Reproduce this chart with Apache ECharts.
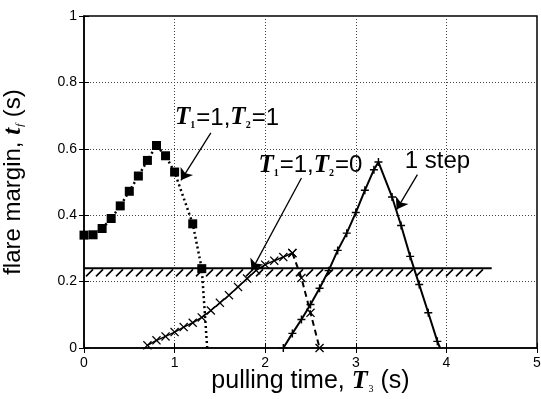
<!DOCTYPE html>
<html><head><meta charset="utf-8">
<script src="https://cdn.jsdelivr.net/npm/echarts@6/dist/echarts.min.js"></script>
<style>html,body{margin:0;padding:0;background:#fff}#c{width:541px;height:399px}</style>
</head><body><div id="c"></div>
<script>
// ---- data ----
const xTicks = [0, 1, 2, 3, 4, 5];
const yTicks = [0, 0.2, 0.4, 0.6, 0.8, 1];

// T1=1, T2=1 (dotted, filled squares)
const aX = [0, 0.1, 0.2, 0.3, 0.4, 0.5, 0.6, 0.7, 0.8, 0.9, 1.0, 1.2, 1.3, 1.36];
const aY = [0.34, 0.341, 0.36, 0.39, 0.428, 0.472, 0.518, 0.565, 0.61, 0.579, 0.53, 0.374, 0.239, 0];

// T1=1, T2=0 (solid part, crosses)
const bX = [0.7, 0.8, 0.9, 1.0, 1.1, 1.2, 1.3, 1.4, 1.5, 1.6, 1.7, 1.8, 1.9, 2.0, 2.1, 2.2, 2.3];
const bY = [0.008, 0.023, 0.035, 0.048, 0.063, 0.076, 0.092, 0.113, 0.136, 0.159, 0.184, 0.209, 0.234, 0.251, 0.263, 0.274, 0.286];
// T1=1, T2=0 (dashed part)
const b2X = [2.3, 2.4, 2.5, 2.6];
const b2Y = [0.286, 0.211, 0.106, 0];

// 1 step (solid, plus markers)
const cX = [2.2, 2.3, 2.4, 2.5, 2.6, 2.7, 2.8, 2.9, 3.0, 3.1, 3.2, 3.25, 3.4, 3.5, 3.6, 3.7, 3.8, 3.9, 3.93];
const cY = [0, 0.044, 0.086, 0.131, 0.18, 0.233, 0.294, 0.346, 0.408, 0.475, 0.537, 0.56, 0.455, 0.369, 0.276, 0.191, 0.106, 0.02, 0];

// threshold line (hatched)
const threshold = 0.24;
const thrStart = 0;
const thrEnd = 4.5;

// ---- chart ----
const serif = '"Liberation Serif", "DejaVu Serif", serif';
const sans = '"Liberation Sans", Arial, sans-serif';
const zip = (xs, ys) => xs.map((x, i) => [x, ys[i]]);
const withLastNoSymbol = arr => arr.map((p, i) => i === arr.length - 1 ? { value: p, symbol: 'none' } : p);
const crossSym = 'path://M-5,-4L-4,-5L0,-1L4,-5L5,-4L1,0L5,4L4,5L0,1L-4,5L-5,4L-1,0Z';
const plusSym = 'path://M-0.9,-5H0.9V-0.9H5V0.9H0.9V5H-0.9V0.9H-5V-0.9H-0.9Z';

const richLabel = {
  T: { fontFamily: serif, fontWeight: 'bold', fontStyle: 'italic', fontSize: 25, color: '#000' },
  s: { fontFamily: serif, fontWeight: 'bold', fontSize: 10, color: '#000', verticalAlign: 'bottom', padding: [10, 1, 0, 0] },
  n: { fontFamily: sans, fontSize: 24, color: '#000' }
};

const chart = echarts.init(document.getElementById('c'));
const gridLine = { show: true, lineStyle: { color: '#444', width: 1, type: [1, 2] } };
const tickIn = { show: true, inside: true, length: 5, lineStyle: { color: '#000', width: 1 } };

chart.setOption({
  animation: false,
  backgroundColor: '#fff',
  grid: { left: 84, right: 4, top: 16, bottom: 51, show: true, borderColor: '#000', borderWidth: 1.5, containLabel: false, outerBoundsMode: 'none' },
  xAxis: [
    {
      type: 'value', min: xTicks[0], max: xTicks[xTicks.length - 1], interval: 1, position: 'bottom',
      axisLine: { show: true, lineStyle: { color: '#000', width: 1.5 } },
      axisTick: tickIn, splitLine: gridLine,
      axisLabel: { color: '#000', fontFamily: sans, fontSize: 14, margin: 8 },
      name: '{n|pulling time, }{T|T}{s|3}{n| (s)}', nameLocation: 'middle', nameGap: 20, nameMoveOverlap: false,
      nameTextStyle: { rich: {
        n: { fontFamily: sans, fontSize: 25, color: '#000' },
        T: { fontFamily: serif, fontWeight: 'bold', fontStyle: 'italic', fontSize: 26, color: '#000' },
        s: { fontFamily: serif, fontSize: 10, color: '#000', verticalAlign: 'bottom', padding: [10, 0, 0, 1] }
      } }
    },
    {
      type: 'value', min: xTicks[0], max: xTicks[xTicks.length - 1], interval: 1, position: 'top',
      axisLine: { show: false }, axisTick: tickIn, axisLabel: { show: false }, splitLine: { show: false }
    }
  ],
  yAxis: [
    {
      type: 'value', min: yTicks[0], max: yTicks[yTicks.length - 1], interval: 0.2, position: 'left',
      axisLine: { show: true, lineStyle: { color: '#000', width: 1.5 } },
      axisTick: tickIn, splitLine: gridLine,
      axisLabel: { color: '#000', fontFamily: sans, fontSize: 14, margin: 7 },
      name: '{n|flare margin, }{t|t}{s|f}{n| (s)}', nameLocation: 'middle', nameGap: 58, nameRotate: 90, nameMoveOverlap: false,
      nameTextStyle: { rich: {
        n: { fontFamily: sans, fontSize: 24, color: '#000' },
        t: { fontFamily: serif, fontWeight: 'bold', fontStyle: 'italic', fontSize: 25, color: '#000' },
        s: { fontFamily: serif, fontStyle: 'italic', fontSize: 11, color: '#000', verticalAlign: 'bottom', padding: [10, 0, 0, 1] }
      } }
    },
    {
      type: 'value', min: yTicks[0], max: yTicks[yTicks.length - 1], interval: 0.2, position: 'right',
      axisLine: { show: false }, axisTick: tickIn, axisLabel: { show: false }, splitLine: { show: false }
    }
  ],
  series: [
    {
      type: 'custom', coordinateSystem: 'cartesian2d', silent: true, z: 3,
      data: [[thrStart, thrEnd, threshold]], encode: { x: [0, 1], y: 2 },
      renderItem: (params, api) => {
        const p0 = api.coord([api.value(0), api.value(2)]);
        const p1 = api.coord([api.value(1), api.value(2)]);
        const children = [{ type: 'line', shape: { x1: p0[0], y1: p0[1], x2: p1[0], y2: p1[1] }, style: { stroke: '#000', lineWidth: 2 } }];
        for (let x = p0[0] + 2; x + 8 <= p1[0]; x += 10) {
          children.push({ type: 'line', shape: { x1: x, y1: p0[1] + 8, x2: x + 7, y2: p0[1] + 1 }, style: { stroke: '#000', lineWidth: 1.6 } });
        }
        return { type: 'group', children };
      }
    },
    {
      name: 'T1=1,T2=1', type: 'line', data: withLastNoSymbol(zip(aX, aY)),
      symbol: 'rect', symbolSize: 9, itemStyle: { color: '#000' },
      lineStyle: { color: '#000', width: 2.5, type: [2, 3] }, z: 4
    },
    {
      name: 'T1=1,T2=0', type: 'line', data: zip(bX, bY),
      symbol: crossSym, symbolSize: 9, itemStyle: { color: '#000' },
      lineStyle: { color: '#000', width: 1.5 }, z: 4
    },
    {
      name: 'T1=1,T2=0 b', type: 'line', data: zip(b2X, b2Y),
      symbol: crossSym, symbolSize: 9, itemStyle: { color: '#000' },
      lineStyle: { color: '#000', width: 2, type: [6, 4] }, z: 4
    },
    {
      name: '1 step', type: 'line', data: withLastNoSymbol(zip(cX, cY)),
      symbol: plusSym, symbolSize: 8, itemStyle: { color: '#000' },
      lineStyle: { color: '#000', width: 2 }, z: 4,
      markLine: {
        silent: true, symbol: ['none', 'arrow'], symbolSize: 11,
        lineStyle: { color: '#000', width: 1.3, type: 'solid' }, label: { show: false },
        data: [
          [{ coord: [1.40, 0.648] }, { coord: [1.07, 0.505] }],
          [{ coord: [2.40, 0.512] }, { coord: [1.85, 0.233] }],
          [{ coord: [3.68, 0.522] }, { coord: [3.45, 0.417] }]
        ]
      },
      markPoint: {
        silent: true, symbol: 'circle', symbolSize: 0,
        label: { show: true, position: 'right', distance: 0, color: '#000' },
        data: [
          { coord: [1.005, 0.693], label: { formatter: '{T|T}{s|1}{n|=1,}{T|T}{s|2}{n|=1}', rich: richLabel } },
          { coord: [1.925, 0.549], label: { formatter: '{T|T}{s|1}{n|=1,}{T|T}{s|2}{n|=0}', rich: richLabel } },
          { coord: [3.54, 0.561], label: { formatter: '1 step', fontFamily: sans, fontSize: 24, color: '#000' } }
        ]
      }
    }
  ]
});
</script>
</body></html>
